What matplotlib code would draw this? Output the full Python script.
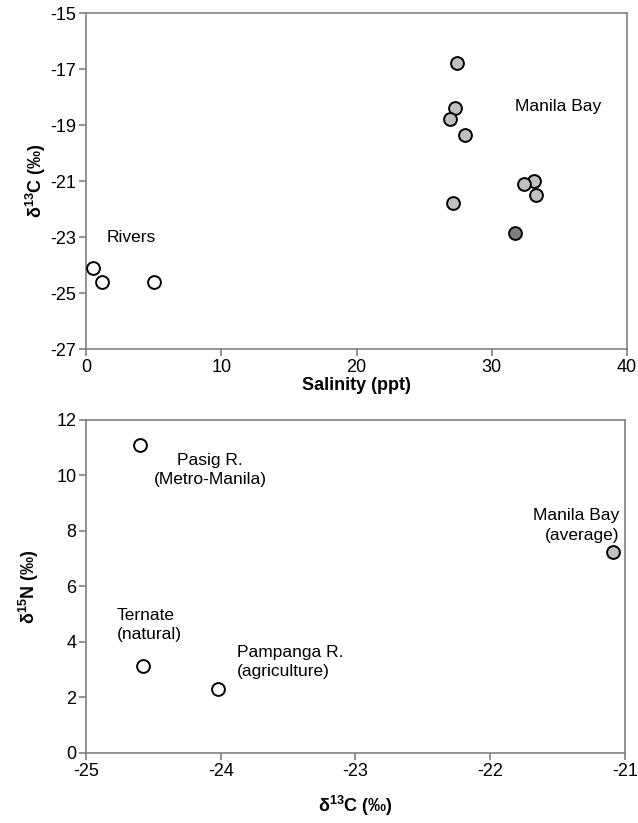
import matplotlib
matplotlib.use('Agg')
import matplotlib.pyplot as plt

plt.rcParams['font.family'] = ['Liberation Sans', 'DejaVu Sans']
plt.rcParams['mathtext.fontset'] = 'custom'
plt.rcParams['mathtext.rm'] = 'Liberation Sans'
plt.rcParams['mathtext.bf'] = 'Liberation Sans:bold'
plt.rcParams['axes.unicode_minus'] = False

# top panel: salinity vs d13C
river_sal = [0.5, 1.2, 5.0]
river_d13c = [-24.1, -24.6, -24.6]
bay_sal = [27.4, 27.3, 26.9, 28.0, 33.1, 32.4, 33.3, 27.1]
bay_d13c = [-16.8, -18.4, -18.8, -19.35, -21.0, -21.1, -21.5, -21.8]
bay_dark_sal = [31.7]
bay_dark_d13c = [-22.85]

# bottom panel: d13C vs d15N
src_d13c = [-24.60, -24.58, -24.02]
src_d15n = [11.1, 3.15, 2.3]
avg_d13c = [-21.09]
avg_d15n = [7.24]

grey = '#808080'
fs = 13
tfs = 12.5

fig = plt.figure(figsize=(6.38, 8.23), dpi=100)
ax1 = fig.add_axes([0.1348, 0.5759, 0.848, 0.4083])
ax2 = fig.add_axes([0.1348, 0.0851, 0.8448, 0.4046])

def style(ax):
    for s in ax.spines.values():
        s.set_color(grey)
        s.set_linewidth(1.2)
    ax.tick_params(direction='out', length=5, width=1.2, color=grey,
                   labelsize=fs, labelcolor='black', pad=2)

ax1.scatter(river_sal, river_d13c, s=85, facecolor='white', edgecolor='black',
            linewidth=1.4, zorder=3, clip_on=False)
ax1.scatter(bay_sal, bay_d13c, s=85, facecolor='#c0c0c0', edgecolor='black',
            linewidth=1.4, zorder=3)
ax1.scatter(bay_dark_sal, bay_dark_d13c, s=85, facecolor='#808080', edgecolor='black',
            linewidth=1.4, zorder=3)
ax1.set_xlim(0, 40)
ax1.set_ylim(-27, -15)
ax1.set_xticks([0, 10, 20, 30, 40])
ax1.set_yticks([-27, -25, -23, -21, -19, -17, -15])
ax1.text(31.7, -18.35, 'Manila Bay', fontsize=tfs, va='center', ha='left')
ax1.text(1.55, -23.0, 'Rivers', fontsize=tfs, va='center', ha='left')
ax1.set_xlabel('Salinity (ppt)', fontsize=fs, fontweight='bold', labelpad=1)
ax1.set_ylabel(r'δ$^{\mathbf{13}}$C (‰)', fontsize=fs, fontweight='bold', labelpad=2)
style(ax1)

ax2.scatter(src_d13c, src_d15n, s=85, facecolor='white', edgecolor='black',
            linewidth=1.4, zorder=3)
ax2.scatter(avg_d13c, avg_d15n, s=85, facecolor='#c0c0c0', edgecolor='black',
            linewidth=1.4, zorder=3)
ax2.set_xlim(-25, -21)
ax2.set_ylim(0, 12)
ax2.set_xticks([-25, -24, -23, -22, -21])
ax2.set_yticks([0, 2, 4, 6, 8, 10, 12])
ax2.text(-24.08, 10.2, 'Pasig R.\n(Metro-Manila)', fontsize=tfs, ha='center',
         va='center', multialignment='center', linespacing=1.35)
ax2.text(-24.77, 4.6, 'Ternate\n(natural)', fontsize=tfs, ha='left',
         va='center', multialignment='left', linespacing=1.35)
ax2.text(-23.88, 3.28, 'Pampanga R.\n(agriculture)', fontsize=tfs, ha='left',
         va='center', multialignment='left', linespacing=1.35)
ax2.text(-21.04, 8.2, 'Manila Bay\n(average)', fontsize=tfs, ha='right',
         va='center', multialignment='right', linespacing=1.35)
ax2.set_xlabel(r'δ$^{\mathbf{13}}$C (‰)', fontsize=fs, fontweight='bold', labelpad=10)
ax2.set_ylabel(r'δ$^{\mathbf{15}}$N (‰)', fontsize=fs, fontweight='bold', labelpad=11)
style(ax2)

fig.savefig('out.png', dpi=100)
